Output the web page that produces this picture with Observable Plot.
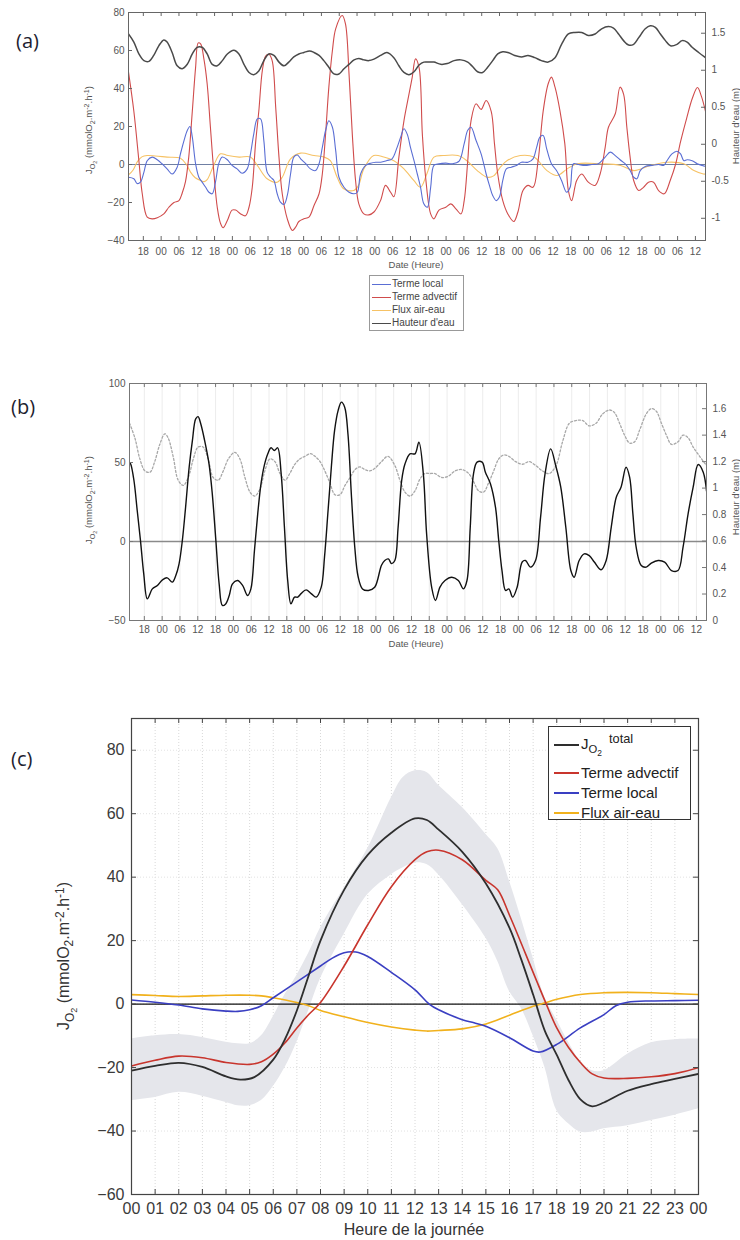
<!DOCTYPE html>
<html><head><meta charset="utf-8">
<script src="https://cdn.jsdelivr.net/npm/d3@7"></script>
<script src="https://cdn.jsdelivr.net/npm/@observablehq/plot@0.6"></script>
<style>
html,body{margin:0;padding:0;background:#fff;}
body{width:740px;height:1240px;position:relative;overflow:hidden;font-family:"Liberation Sans",Arial,sans-serif;}
.panel{position:absolute;left:0;}
.plab{position:absolute;font-family:"Open Sans",sans-serif;font-size:20px;color:#1e1e30;line-height:1;}
.ylab{position:absolute;white-space:nowrap;transform:translate(-50%,-50%) rotate(-90deg);line-height:1;}
.ttl{position:absolute;white-space:nowrap;transform:translate(-50%,-50%);line-height:1;}
.sm{font-size:9.5px;color:#555;}
.sub{font-size:75%;vertical-align:-0.35em;}
.sup{font-size:75%;vertical-align:0.45em;}
.leg{position:absolute;background:#fff;box-sizing:border-box;}
.row{position:absolute;left:0;white-space:nowrap;line-height:1;}
.seg{position:absolute;}
</style></head><body>
<div class="plab" style="left:16px;top:31px">(a)</div>
<div class="plab" style="left:11px;top:397px">(b)</div>
<div class="plab" style="left:11px;top:749px">(c)</div>

<div id="pa" class="panel" style="top:0"></div>
<div id="pb" class="panel" style="top:340px"></div>
<div id="pc" class="panel" style="top:690px"></div>

<div class="ylab sm" style="left:91px;top:130px">J<span class="sub">O<span class="sub">2</span></span> (mmolO<span class="sub">2</span>.m<span class="sup">-2</span>.h<span class="sup">-1</span>)</div>
<div class="ylab sm" style="left:736px;top:126px">Hauteur d'eau (m)</div>
<div class="ttl sm" style="left:416px;top:265px">Date (Heure)</div>

<div class="leg" id="lega" style="left:369px;top:275px;width:95px;height:56px;border:1px solid #999;"></div>

<div class="ylab sm" style="left:91px;top:500px">J<span class="sub">O<span class="sub">2</span></span> (mmolO<span class="sub">2</span>.m<span class="sup">-2</span>.h<span class="sup">-1</span>)</div>
<div class="ylab sm" style="left:736px;top:497px">Hauteur d'eau (m)</div>
<div class="ttl sm" style="left:416px;top:644px">Date (Heure)</div>

<div class="ylab" style="left:66px;top:956px;font-size:16px;color:#333">J<span class="sub">O<span class="sub">2</span></span> (mmolO<span class="sub">2</span>.m<span class="sup">-2</span>.h<span class="sup">-1</span>)</div>
<div class="ttl" style="left:414px;top:1230px;font-size:16px;color:#333">Heure de la journée</div>

<div class="leg" id="legc" style="left:548px;top:726px;width:143px;height:94px;border:1px solid #333;"></div>

<script>
// ---------- Panel (a) and (b): time in hours since the first 18:00 tick ----------
const timeTicks = d3.range(0, 187, 6);
const firstTickHour = 18;

const advectif = [[-5,48.6],[-3.2,28],[-1.5,2],[-0.4,-15],[1.3,-27.7],[3,-28.6],[4.7,-28],[6.9,-26],[8.6,-22.5],[10.3,-20],[12,-19],[13.1,-15],[14.2,-9],[15.3,3.9],[16.5,28],[17.6,51],[18.5,64],[19.3,63.5],[20.4,55.6],[21.5,42.5],[22.6,19.6],[23.8,-5],[24.9,-22.5],[26,-31],[26.9,-33.3],[28.3,-29.5],[29.9,-24],[31.1,-24],[32.8,-26],[34.4,-27],[35.6,-22.5],[36.7,-12],[37.8,11],[38.9,28],[40.1,49.5],[41.2,57],[42.3,58],[43.4,54.7],[44.6,30],[45.7,3.9],[46.8,-15.4],[48.5,-28.6],[50.2,-34.7],[51.3,-33],[52.4,-30],[54.1,-28.6],[55.8,-27.7],[57.5,-21.6],[59.2,-15.4],[60.3,-5],[61.4,16],[62.5,40.7],[63.7,60],[64.8,71.4],[67,78.4],[68.1,74],[69.3,47.7],[70.4,16],[71.5,-8.4],[72.6,-20.7],[74.3,-26],[76,-26.5],[77.7,-25],[79.9,-19],[81.6,-11],[83.3,-14.6],[84.4,-17],[86.1,3.9],[87.8,23],[89.5,37],[90.6,46],[91.7,55.6],[92.9,51],[94,16],[95.1,-6.7],[96.8,-26],[97.9,-28.6],[99.6,-24],[101.9,-22.5],[103.6,-20.7],[105.3,-23.3],[107,-26],[108.1,-19],[109.3,2],[110.4,23],[112.1,32],[113.8,29],[115.5,33.7],[117.2,28],[118.3,11],[119.4,-5],[121.1,-19],[122.8,-26],[124.8,-30],[126.2,-25],[127.9,-13.7],[129.6,-11],[131.3,-12],[133,2],[134.7,28],[136.4,42.5],[137.5,46],[138.7,40.7],[140.4,28],[142,11],[143.2,-13.7],[144.3,-19],[146,-8.4],[147.7,-5],[149.9,-9.3],[152.2,-11],[153.9,-5],[155.6,9],[156.7,19.6],[159,26.7],[160.6,40.7],[161.8,37],[162.9,19.6],[164,3.9],[165.2,-8.4],[166.9,-13.7],[168.5,-12],[170.2,-9.3],[171.9,-9.3],[173.6,-13.7],[175.5,-15.4],[177.6,-8],[179.3,0],[181,12],[183,24],[185,35],[186.7,40.5],[188,36],[189.4,28]];

const local = [[-5,-6.7],[-3.2,-7.5],[-2.1,-10],[-1,-9.3],[0.2,-4],[1.3,2],[3,3.9],[4.7,2.5],[6.3,0.4],[8,-2.3],[9.7,-5],[11.4,-1.4],[12.5,5.6],[13.7,12.6],[14.8,17.9],[15.7,20],[16.5,14.4],[17.6,0.4],[18.7,-6.7],[19.8,-9.3],[21,-12],[22.1,-14.6],[23.2,-15.4],[24.3,-9.3],[25.4,0.4],[26.6,3.9],[28.3,2.5],[29.9,-0.5],[31.6,-2.3],[33.3,-4.6],[35,-2.3],[36.1,5.6],[37.2,16],[38.4,24],[39.5,24],[40.6,12.6],[41.7,-4],[42.9,-6.7],[44,-8.4],[45.1,-15.4],[46.2,-19.8],[47.4,-21],[48.5,-16.3],[49.6,-5],[50.7,3.9],[51.9,5],[53,3],[54.7,0.4],[56.3,-2.3],[58,-3.2],[59.2,0.4],[60.3,9],[61.4,17.9],[62.5,23],[63.7,19.6],[64.8,7.4],[65.9,-6.7],[67.6,-12],[69.3,-14.6],[71,-15.4],[72.1,-14.6],[73.2,-5],[74.9,-0.5],[76.6,0.7],[78.3,1.2],[80,1.2],[82.1,2.1],[83.8,3],[85.5,9],[86.7,14.4],[87.8,18.8],[88.9,16],[90,9],[91.2,2],[92.3,-5],[93.4,-12],[94.5,-20.7],[95.7,-22.5],[96.8,-12],[97.9,-0.5],[99.6,0.4],[101.9,0.7],[104.1,0.4],[106.4,1.8],[108.1,11],[109.3,18],[110.4,19.6],[112.1,12.6],[113.8,5.6],[115.5,-5],[116.6,-11],[117.7,-16.3],[118.9,-19],[120,-17],[121.1,-8.4],[122.3,-2.3],[124,-1.4],[125.7,-0.5],[127.4,1.2],[129.6,1.2],[131.3,3],[132.5,9],[133.6,14.4],[134.7,15.3],[135.9,8.2],[137.5,0.4],[139.2,-3.2],[140.9,-8.4],[142.6,-14.6],[143.8,-12],[144.9,0.4],[146.6,0],[148.8,-0.5],[151.1,0],[153.3,0.4],[155.6,3.9],[157.3,6.5],[159,4.7],[160.6,2.5],[162.3,0.4],[164,-3.2],[165.2,-6.7],[166.3,-7.5],[167.4,-3.2],[169.1,-1],[171.4,-0.5],[173.6,0],[175.3,-0.5],[176.4,2],[178.1,5.6],[179.8,7],[181,5.6],[182.1,2],[183.2,2.5],[184.9,2],[186.6,0.4],[188.3,-0.5],[189.4,-1]];

const airEau = [[-5,-5.5],[-3.5,-3],[-2,1.5],[-0.5,4],[1.3,4.7],[4,4.5],[8,3.9],[12.5,3.3],[14.5,0],[15.9,-4],[17.5,-7],[19.3,-8.4],[20.5,-9],[21.5,-8],[23.7,-0.5],[26,5.6],[28.5,4.7],[32.3,3.9],[36.1,3.9],[38.4,-0.5],[41.7,-7.5],[45.1,-9.3],[46.8,-6.7],[49.6,3],[53,6],[57.5,4.7],[60.9,3.9],[63,2],[65.3,-6.7],[67.5,-12.8],[70.9,-13.7],[72.5,-11],[74.3,-2.3],[77.6,4.7],[81,3.9],[84.4,2],[87.8,-2.3],[91.1,-8.4],[93.4,-12],[95.5,-5],[97.9,3.9],[101,4.7],[106,4.7],[109,2],[112.5,-3.2],[115.8,-6.7],[118,-6],[120.5,-1],[122.6,2.1],[127,4.7],[131.6,3.9],[136,-3.2],[139.4,-5.8],[142.8,-2.3],[146.2,0.4],[153.9,0.4],[160.8,-0.5],[165.3,-3.2],[170.9,-0.5],[176.5,1.2],[182.1,0.4],[185.5,-3.2],[188.7,-5],[189.4,-5]];

const hauteur = [[-5,1.49],[-3.2,1.38],[-1.5,1.22],[0.2,1.13],[1.9,1.12],[3.5,1.2],[5.2,1.33],[6.9,1.41],[8,1.38],[9.7,1.24],[11.4,1.06],[13.1,1.02],[14.8,1.08],[16.5,1.22],[18.1,1.31],[19.8,1.31],[21.5,1.22],[23.2,1.08],[24.9,1.06],[26.6,1.13],[28.3,1.22],[30.5,1.27],[32.2,1.22],[33.9,1.08],[35.6,0.97],[37.2,0.94],[38.9,0.99],[40.6,1.13],[42.3,1.22],[44,1.2],[45.7,1.11],[47.4,1.06],[49,1.11],[50.7,1.18],[52.4,1.22],[54.1,1.24],[56,1.26],[57.5,1.24],[59.2,1.2],[60.8,1.13],[62.5,1.04],[64.2,0.95],[65.9,0.95],[67.6,1.02],[69.3,1.08],[71,1.14],[72.6,1.16],[74.3,1.14],[76,1.13],[77.7,1.15],[79.9,1.2],[82.1,1.24],[84.4,1.17],[86.1,1.06],[87.8,0.97],[89.5,0.94],[91.2,0.98],[92.9,1.07],[94.5,1.11],[96.2,1.11],[97.9,1.11],[100.2,1.08],[102.4,1.09],[104.7,1.13],[107,1.14],[109.3,1.11],[110.9,1.05],[112.6,0.98],[114.3,0.97],[116,1.04],[117.7,1.13],[119.4,1.22],[121.1,1.25],[122.8,1.24],[125.1,1.2],[127.4,1.18],[129.6,1.2],[131.9,1.17],[134.1,1.13],[136.4,1.11],[138.7,1.17],[140.9,1.35],[143.2,1.49],[145.4,1.51],[147.7,1.51],[149.9,1.47],[152.2,1.49],[154.4,1.56],[156.7,1.59],[158.4,1.57],[160.1,1.49],[161.8,1.4],[163.5,1.34],[165.2,1.35],[166.9,1.44],[169.1,1.56],[170.8,1.6],[172.5,1.58],[174.2,1.49],[175.9,1.4],[177.6,1.33],[179.8,1.35],[181.5,1.4],[183.2,1.38],[184.9,1.31],[187.1,1.24],[189.4,1.17]];

const totalB = [[-5,50],[-4.6,49],[-3.5,38.6],[-2.4,19.6],[-1.3,0.6],[-0.2,-20.5],[1,-36.3],[2.7,-30],[4.4,-27.8],[6.1,-24.3],[7.7,-23],[9.4,-25.7],[10.6,-21.5],[11.7,-14.1],[12.8,0.6],[13.9,21.7],[15.1,47],[16.2,64],[17.3,77.6],[18.1,79],[19,74.5],[20.3,64],[21.8,49],[22.9,30],[24.1,0.6],[25.2,-26.8],[26.3,-40.5],[27.4,-39.5],[28.6,-34.2],[29.7,-26.8],[31.4,-24.7],[33.1,-27.8],[34.8,-34.2],[35.9,-30],[37.1,-5.7],[38.2,17.5],[39.3,36.5],[40.4,48],[41.6,55.5],[42.7,59.3],[43.8,57.6],[44.9,59.3],[46.1,42.8],[47.2,9],[48.3,-24.7],[49.4,-39.5],[50.6,-35.2],[51.7,-35.2],[52.8,-33],[54.5,-30.6],[56.2,-33],[57.9,-35.2],[59.6,-28.9],[60.7,-9.9],[61.9,19.6],[63,47],[64.1,70.3],[65.3,83],[66.4,88.2],[67.5,85],[68.6,68],[69.8,28],[70.9,-3.6],[72,-22],[73.5,-30],[75.5,-31],[77.6,-29],[79.9,-15],[81,-12],[82.2,-11],[83.3,-14],[84.4,-12],[85.5,9],[86.7,38.6],[87.8,49],[89.5,55.5],[91.2,55.5],[92.5,62.9],[94,42.8],[95.1,4.9],[96.8,-28.9],[98.1,-37.3],[99.6,-28.9],[101.3,-24.7],[103.6,-22.6],[105.8,-24.7],[107.5,-30],[108.7,-24.7],[109.8,9],[110.9,42.8],[112.1,50.2],[113.8,50.2],[114.9,43.9],[116.6,36.5],[118.3,21.7],[119.4,0.6],[120.5,-18.4],[121.7,-31],[122.8,-30],[124.1,-35.2],[125.6,-28.9],[127.3,-13],[128.4,-12],[130.1,-16.2],[131.8,-12],[133.5,15.4],[135,42.8],[136.9,58.6],[138.6,48],[140.3,34.4],[142,9],[143.7,-18.4],[144.8,-22.6],[146.5,-12],[148.2,-7.8],[149.9,-8.9],[151.6,-13],[153.9,-17.9],[155.6,-12],[157.3,9],[159,28],[160.6,34.4],[162.3,47],[163.5,40.7],[164.6,17.5],[165.7,-3.6],[167.4,-15.2],[169.1,-16.2],[170.8,-13.7],[173.1,-12],[175.3,-13],[177.6,-18.4],[179.8,-18.4],[181.5,-3.6],[183.2,17.5],[184.9,34.4],[186.6,48.7],[188.3,43.9],[189.4,32]];

// ---------- Panel (c): average day ----------
const hourTicks = d3.range(0, 25);
const jTotal = [[0,-21],[1,-19.5],[2,-18.5],[3,-19.8],[4,-22.8],[4.6,-23.8],[5.2,-23],[6,-17.5],[6.5,-11],[7,-2],[7.5,9],[8,20],[9,36],[10,47],[11,54],[12,58.5],[12.5,58],[13,55],[14,48],[15,38],[16,24],[16.5,14],[17,3],[17.5,-8.5],[18,-16],[18.5,-24],[19,-30],[19.5,-32.2],[20,-31],[21,-27.3],[22,-25.2],[23,-23.6],[24,-22]];
const cAdvectif = [[0,-19.5],[1,-17.7],[2,-16.4],[3,-16.9],[4,-18.4],[5,-19],[5.5,-18.2],[6,-15.8],[6.5,-12.2],[7,-7.5],[7.5,-3.3],[8,0.5],[9,12],[10,25],[11,37],[12,45.5],[12.5,48],[13,48.5],[14,45.5],[15,39],[15.5,36],[16,28],[17,10],[17.5,1],[18,-7.5],[18.5,-13.7],[19,-18.4],[19.5,-22],[20,-23.3],[21,-23.4],[22,-22.9],[23,-21.9],[24,-20]];
const cLocal = [[0,1.3],[1,0.6],[2,-0.3],[3,-1.5],[4,-2.2],[4.5,-2.3],[5,-1.8],[5.5,-0.5],[6,2],[7,7],[8,12],[8.5,14.5],[9,16.2],[9.5,16.4],[10,15],[11,10],[12,4.5],[12.6,0],[13,-1.8],[14,-4.9],[14.5,-5.9],[15,-7],[16,-10.6],[17,-14.8],[17.3,-15.1],[18,-12.7],[19,-7.5],[20,-3.3],[20.5,-0.5],[21,0.6],[22,1],[23,1.1],[24,1.2]];
const cAirEau = [[0,3],[1,2.7],[2,2.4],[3,2.6],[4,2.8],[5,2.8],[5.5,2.6],[6,2],[7,0.5],[7.5,-0.5],[8,-2],[9,-4],[10,-5.8],[11,-7.2],[12,-8.2],[12.5,-8.5],[13,-8.3],[14,-7.8],[15,-6.3],[16,-3.5],[17,-0.7],[17.5,0.4],[18,1.5],[19,3],[20,3.6],[21,3.7],[22,3.6],[23,3.3],[24,3]];
const spread = [[0,-30.4,-11],[1,-29.4,-10],[2,-27.8,-9.6],[3,-29,-10.5],[4,-31,-12],[4.5,-32,-12.5],[5,-32,-12.5],[5.5,-30.4,-10],[6,-26,-4],[6.5,-20,3],[7,-12,9],[7.5,-2,16],[8,8,24],[9,22,36.6],[10,34.5,49],[11,40.8,65],[11.5,43,71.4],[12,44.5,73.5],[12.5,44,73],[13,40.8,69],[14,31.4,62],[15,20.8,53.5],[15.5,13.5,49],[16,4,38.7],[16.5,-1.3,27],[17,-10,14.5],[17.5,-20,2],[18,-33.5,-5],[18.5,-37.7,-12],[19,-40.3,-18],[19.5,-40.3,-21],[20,-39.3,-21],[21,-38.3,-15.8],[22,-36.7,-12.2],[23,-35,-11.2],[24,-33,-11]];

// ---------- Axis ticks ----------
const aLeftTicks = [-40, -20, 0, 20, 40, 60, 80];
const aRightTicks = [-1, -0.5, 0, 0.5, 1, 1.5];
const bLeftTicks = [-50, 0, 50, 100];
const bRightTicks = [0, 0.2, 0.4, 0.6, 0.8, 1, 1.2, 1.4, 1.6];
const cYTicks = [-60, -40, -20, 0, 20, 40, 60, 80];

// ---------- Colours ----------
const colA = {local: "#5a6ed4", adv: "#d04c4c", air: "#f6c265", haut: "#4a4a4a", zero: "#6f7fa3"};
const colC = {total: "#2e2e2e", adv: "#c8352d", local: "#3a3fc2", air: "#f1b11c", band: "#e5e6eb"};

const xDomAB = [-5, 189.4];
const fmtTime = t => String((firstTickHour + t) % 24).padStart(2, "0");
const linMap = (d0, d1) => v => d1[0] + (v - d0[0]) / (d0[1] - d0[0]) * (d1[1] - d1[0]);
const fmtNum = v => String(+v.toFixed(2));

function innerTicks({xs, xd, yd, ysL, ysR, w, h, len, stroke}) {
  const lx = len * (xd[1] - xd[0]) / w, ly = len * (yd[1] - yd[0]) / h;
  return [
    Plot.ruleX(xs, {x: d => d, y1: yd[0], y2: yd[0] + ly, stroke}),
    Plot.ruleX(xs, {x: d => d, y1: yd[1], y2: yd[1] - ly, stroke}),
    Plot.ruleY(ysL, {y: d => d, x1: xd[0], x2: xd[0] + lx, stroke}),
    Plot.ruleY(ysR, {y: d => d, x1: xd[1], x2: xd[1] - lx, stroke})
  ];
}
const line = (data, y, stroke, extra = {}) => Plot.line(data, {x: d => d[0], y, stroke, curve: "catmull-rom", clip: true, ...extra});

// ---------- Panel (a) ----------
{
  const yd = [-40, 80], rd = [-1.3, 1.78];
  const r2l = linMap(rd, yd), l2r = linMap(yd, rd);
  const W = 740, H = 270, mt = 12, mb = 30, ml = 128, mr = 35;
  const chart = Plot.plot({
    width: W, height: H, marginTop: mt, marginBottom: mb, marginLeft: ml, marginRight: mr,
    x: {domain: xDomAB}, y: {domain: yd},
    style: {fontFamily: "Liberation Sans, Arial, sans-serif", fontSize: "10px", color: "#555", background: "transparent"},
    marks: [
      Plot.ruleY([0], {stroke: colA.zero, strokeWidth: 1}),
      line(airEau, d => d[1], colA.air, {strokeWidth: 1.1}),
      line(advectif, d => d[1], colA.adv, {strokeWidth: 1.1}),
      line(local, d => d[1], colA.local, {strokeWidth: 1.1}),
      line(hauteur, d => r2l(d[1]), colA.haut, {strokeWidth: 1.5}),
      Plot.frame({stroke: "#666"}),
      innerTicks({xs: timeTicks, xd: xDomAB, yd, ysL: aLeftTicks, ysR: aRightTicks.map(r2l), w: W - ml - mr, h: H - mt - mb, len: 4, stroke: "#666"}),
      Plot.axisX(timeTicks, {anchor: "bottom", tickSize: 0, tickPadding: 7, tickFormat: fmtTime, label: null}),
      Plot.axisY(aLeftTicks, {anchor: "left", tickSize: 0, tickPadding: 4, label: null}),
      Plot.axisY(aRightTicks.map(r2l), {anchor: "right", tickSize: 0, tickPadding: 6, tickFormat: u => fmtNum(l2r(u)), label: null})
    ]
  });
  document.getElementById("pa").append(chart);
}

// ---------- Panel (b) ----------
{
  const yd = [-50, 100], rd = [0, 1.79];
  const r2l = linMap(rd, yd), l2r = linMap(yd, rd);
  const W = 740, H = 320, mt = 43, mb = 40, ml = 129, mr = 34;
  const chart = Plot.plot({
    width: W, height: H, marginTop: mt, marginBottom: mb, marginLeft: ml, marginRight: mr,
    x: {domain: xDomAB}, y: {domain: yd},
    style: {fontFamily: "Liberation Sans, Arial, sans-serif", fontSize: "10px", color: "#555", background: "transparent"},
    marks: [
      Plot.ruleX(timeTicks, {x: d => d, stroke: "#ececec"}),
      Plot.ruleY([0], {stroke: "#8a8a8a", strokeWidth: 1.6}),
      line(hauteur, d => r2l(d[1]), "#a8a8a8", {strokeWidth: 1.3, strokeDasharray: "2,2"}),
      line(totalB, d => d[1], "#111", {strokeWidth: 1.4}),
      Plot.frame({stroke: "#777"}),
      innerTicks({xs: timeTicks, xd: xDomAB, yd, ysL: bLeftTicks, ysR: bRightTicks.map(r2l), w: W - ml - mr, h: H - mt - mb, len: 4, stroke: "#777"}),
      Plot.axisX(timeTicks, {anchor: "bottom", tickSize: 0, tickPadding: 5, tickFormat: fmtTime, label: null}),
      Plot.axisY(bLeftTicks, {anchor: "left", tickSize: 0, tickPadding: 4, label: null}),
      Plot.axisY(bRightTicks.map(r2l), {anchor: "right", tickSize: 0, tickPadding: 6, tickFormat: u => fmtNum(l2r(u)), label: null})
    ]
  });
  document.getElementById("pb").append(chart);
}

// ---------- Panel (c) ----------
{
  const xd = [0, 24], yd = [-60, 90];
  const W = 740, H = 550, mt = 28, mb = 46, ml = 131, mr = 42;
  const chart = Plot.plot({
    width: W, height: H, marginTop: mt, marginBottom: mb, marginLeft: ml, marginRight: mr,
    x: {domain: xd}, y: {domain: yd},
    style: {fontFamily: "Liberation Sans, Arial, sans-serif", fontSize: "16px", color: "#3a3a3a", background: "transparent"},
    marks: [
      Plot.ruleX(hourTicks, {x: d => d, stroke: "#d8d8d8", strokeDasharray: "1,2"}),
      Plot.ruleY(cYTicks, {y: d => d, stroke: "#e2e2e2", strokeDasharray: "1,2"}),
      Plot.areaY(spread, {x: d => d[0], y1: d => d[1], y2: d => d[2], fill: colC.band, curve: "catmull-rom"}),
      Plot.ruleY([0], {stroke: "#111", strokeWidth: 1.3}),
      line(cAirEau, d => d[1], colC.air, {strokeWidth: 1.6}),
      line(cLocal, d => d[1], colC.local, {strokeWidth: 1.6}),
      line(cAdvectif, d => d[1], colC.adv, {strokeWidth: 1.6}),
      line(jTotal, d => d[1], colC.total, {strokeWidth: 1.8}),
      Plot.frame({stroke: "#444", strokeWidth: 1.2}),
      innerTicks({xs: hourTicks, xd, yd, ysL: cYTicks, ysR: cYTicks, w: W - ml - mr, h: H - mt - mb, len: 5, stroke: "#444"}),
      Plot.axisX(hourTicks, {anchor: "bottom", tickSize: 0, tickPadding: 8, tickFormat: h => String(h % 24).padStart(2, "0"), label: null}),
      Plot.axisY(cYTicks, {anchor: "left", tickSize: 0, tickPadding: 7, label: null})
    ]
  });
  document.getElementById("pc").append(chart);
}

// ---------- Legends ----------
const legA = [["Terme local", colA.local], ["Terme advectif", colA.adv], ["Flux air-eau", colA.air], ["Hauteur d'eau", colA.haut]];
const la = document.getElementById("lega");
legA.forEach(([name, c], i) => {
  const top = 3 + i * 13;
  la.insertAdjacentHTML("beforeend",
    `<div class="seg" style="left:2px;top:${top + 5}px;width:19px;height:1px;background:${c}"></div>` +
    `<div class="row" style="left:22px;top:${top}px;font-size:10px;color:#444">${name}</div>`);
});
const legC = [
  ["J<span class='sub'>O<span class='sub'>2</span></span><span class='sup' style='font-size:85%'>&nbsp;&nbsp;total</span>", colC.total, 2.2, 14],
  ["Terme advectif", colC.adv, 1.6, 46],
  ["Terme local", colC.local, 1.6, 66],
  ["Flux air-eau", colC.air, 1.6, 86]
];
const lc = document.getElementById("legc");
legC.forEach(([name, c, sw, cy]) => {
  lc.insertAdjacentHTML("beforeend",
    `<div class="seg" style="left:5px;top:${cy - sw / 2 + (cy === 14 ? 4 : 0)}px;width:25px;height:${sw}px;background:${c}"></div>` +
    `<div class="row" style="left:32px;top:${cy - 8}px;font-size:15px;color:#222">${name}</div>`);
});
</script>
</body></html>
